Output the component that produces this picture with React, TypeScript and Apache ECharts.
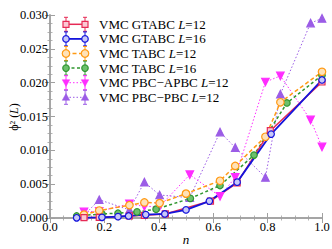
import React, { useEffect, useRef } from "react";
import * as echarts from "echarts";

// ---- data ----
const xTickValues = [0.0, 0.2, 0.4, 0.6, 0.8, 1.0];
const yTickValues = [0.0, 0.005, 0.01, 0.015, 0.02, 0.025, 0.03];

const seriesNames = [
  "VMC GTABC L=12",
  "VMC GTABC L=16",
  "VMC TABC L=12",
  "VMC TABC L=16",
  "VMC PBC\u2212APBC L=12",
  "VMC PBC\u2212PBC L=12",
];

const gtabc12: [number, number][] = [
  [0.125, 0.00005], [0.181, 0.0001], [0.292, 0.0003], [0.347, 0.0004],
  [0.424, 0.0006], [0.59, 0.0025], [0.688, 0.0052], [0.81, 0.0129], [1.0, 0.0201],
];
const gtabc16: [number, number][] = [
  [0.098, 0.00003], [0.191, 0.0001], [0.25, 0.0002], [0.289, 0.0003], [0.352, 0.0005],
  [0.422, 0.0006], [0.5, 0.0012], [0.586, 0.0025], [0.688, 0.0053], [0.813, 0.0124], [1.0, 0.0204],
];
const tabc12: [number, number][] = [
  [0.125, 0.0005], [0.181, 0.0011], [0.292, 0.0019], [0.347, 0.0023], [0.403, 0.0022],
  [0.5, 0.0036], [0.625, 0.0055], [0.681, 0.0077], [0.792, 0.012], [0.847, 0.0171], [1.0, 0.0216],
];
const tabc16: [number, number][] = [
  [0.098, 0.0003], [0.191, 0.0006], [0.25, 0.0007], [0.32, 0.0009], [0.39, 0.0013],
  [0.516, 0.0029], [0.625, 0.0048], [0.75, 0.0093], [0.871, 0.017], [1.0, 0.0211],
];
const pbcApbc12: [number, number][] = [
  [0.125, 0.0009], [0.181, 0.001], [0.292, 0.0021], [0.347, 0.0017], [0.403, 0.0017],
  [0.514, 0.0064], [0.625, 0.0032], [0.681, 0.006], [0.792, 0.0201], [0.847, 0.021],
  [0.958, 0.0145], [1.0, 0.0105],
];
const pbcPbc12: [number, number][] = [
  [0.125, 0.0004], [0.181, 0.0027], [0.292, 0.0012], [0.347, 0.0053], [0.403, 0.0034],
  [0.514, 0.003], [0.625, 0.0127], [0.681, 0.0104], [0.792, 0.006], [0.847, 0.0183],
  [0.958, 0.0288], [1.0, 0.0295],
];

const FONT = "Liberation Serif";
const FRAME = "#a0a0a0";

type Style = {
  color: string;
  fill: string;
  symbol: string;
  rotate: number;
  size: number;
  dash: number[] | "solid";
  width: number;
};

const styles: Style[] = [
  { color: "#e62a55", fill: "#fbc9d4", symbol: "rect", rotate: 0, size: 6, dash: "solid", width: 1.5 },
  { color: "#1414dc", fill: "#c8c8f8", symbol: "circle", rotate: 0, size: 6.5, dash: "solid", width: 1.8 },
  { color: "#ff9a14", fill: "#ffe2b8", symbol: "circle", rotate: 0, size: 7.5, dash: [4, 2.5], width: 1.5 },
  { color: "#2f962f", fill: "#6cc06c", symbol: "circle", rotate: 0, size: 6.5, dash: [3, 2.5], width: 1.5 },
  { color: "#ff2cff", fill: "#ff2cff", symbol: "triangle", rotate: 180, size: 7.5, dash: [1.5, 2], width: 1 },
  { color: "#9b5ce6", fill: "#9b5ce6", symbol: "triangle", rotate: 0, size: 7.5, dash: [1.5, 2], width: 1 },
];

const dataSets = [gtabc12, gtabc16, tabc12, tabc16, pbcApbc12, pbcPbc12];

function legendText(name: string) {
  const m = name.match(/^(.*) L=(\d+)$/);
  if (!m) return `{a|${name}}`;
  return `{a|${m[1]} }{i|L}{a|=${m[2]}}`;
}

function legendGraphics() {
  const out: any[] = [];
  const x1 = 66, x2 = 85, top = 24.3, step = 14.6;
  styles.forEach((s, i) => {
    const y = top + i * step;
    const lineDash = s.dash === "solid" ? null : s.dash;
    out.push({
      type: "line",
      shape: { x1, y1: y, x2, y2: y },
      style: { stroke: s.color, lineWidth: s.width, lineDash },
    });
    [x1, x2].forEach((x) => {
      out.push({ type: "line", shape: { x1: x, y1: y - 7, x2: x, y2: y + 7 }, style: { stroke: s.color, lineWidth: 1 } });
      out.push({ type: "line", shape: { x1: x - 2, y1: y - 7, x2: x + 2, y2: y - 7 }, style: { stroke: s.color, lineWidth: 1 } });
      out.push({ type: "line", shape: { x1: x - 2, y1: y + 7, x2: x + 2, y2: y + 7 }, style: { stroke: s.color, lineWidth: 1 } });
      const st = { fill: s.fill, stroke: s.color, lineWidth: 1.2 };
      const r = s.size / 2;
      if (s.symbol === "rect") {
        out.push({ type: "rect", shape: { x: x - r, y: y - r, width: 2 * r, height: 2 * r }, style: st });
      } else if (s.symbol === "circle") {
        out.push({ type: "circle", shape: { cx: x, cy: y, r }, style: st });
      } else {
        const d = s.rotate === 180 ? -1 : 1;
        out.push({
          type: "polygon",
          shape: { points: [[x, y - d * r], [x - r, y + d * r * 0.8], [x + r, y + d * r * 0.8]] },
          style: { fill: s.color, stroke: s.color, lineWidth: 0.5 },
        });
      }
    });
    out.push({
      type: "text",
      x: 99,
      y,
      style: {
        text: legendText(seriesNames[i]),
        verticalAlign: "middle",
        align: "left",
        rich: {
          a: { fontFamily: FONT, fontSize: 13, fill: "#000" },
          i: { fontFamily: FONT, fontSize: 13, fontStyle: "italic", fill: "#000" },
        },
      },
    });
  });
  // y-axis title, rotated
  out.push({
    type: "text",
    x: 14,
    y: 117,
    rotation: Math.PI / 2,
    style: {
      text: "{a|\u03d5\u00b2 (}{i|L}{a|)}",
      align: "center",
      verticalAlign: "middle",
      rich: {
        a: { fontFamily: FONT, fontSize: 12, fill: "#000" },
        i: { fontFamily: FONT, fontSize: 12, fontStyle: "italic", fill: "#000" },
      },
    },
  });
  // x-axis title
  out.push({
    type: "text",
    x: 186,
    y: 239,
    style: {
      text: "n",
      align: "center",
      verticalAlign: "middle",
      fontFamily: FONT,
      fontSize: 13,
      fontStyle: "italic",
      fill: "#000",
    },
  });
  return out;
}

export default function App() {
  const ref = useRef<HTMLDivElement>(null);
  useEffect(() => {
    if (!ref.current) return;
    const chart = echarts.init(ref.current, null, { renderer: "svg" });
    const tickCommon = {
      axisLine: { show: true, lineStyle: { color: FRAME, width: 1.5 } },
      axisTick: { show: true, inside: true, length: 5, lineStyle: { color: FRAME, width: 1 } },
      minorTick: { show: true, splitNumber: 4, length: 2.5, lineStyle: { color: FRAME, width: 0.8 } },
      splitLine: { show: false },
    };
    const xBase = { type: "value", min: 0, max: 1, interval: 0.2 };
    const yBase = { type: "value", min: 0, max: 0.03, interval: 0.005 };
    const labelStyle = { fontFamily: FONT, fontSize: 12.5, color: "#000" };
    chart.setOption({
      animation: false,
      grid: { left: 50, right: 10, top: 15, bottom: 31, containLabel: false, outerBoundsMode: "none" },
      xAxis: [
        {
          ...xBase,
          ...tickCommon,
          position: "bottom",
          axisLabel: { ...labelStyle, margin: 4, lineHeight: 10, formatter: (v: number) => (xTickValues.some((t) => Math.abs(t - v) < 1e-9) ? v.toFixed(1) : "") },
        },
        {
          ...xBase,
          ...tickCommon,
          position: "top",
          axisLabel: { show: false },
        },
      ],
      yAxis: [
        {
          ...yBase,
          ...tickCommon,
          position: "left",
          axisLabel: { ...labelStyle, margin: 2, lineHeight: 8, formatter: (v: number) => (yTickValues.some((t) => Math.abs(t - v) < 1e-9) ? v.toFixed(3) : "") },
        },
        {
          ...yBase,
          ...tickCommon,
          position: "right",
          axisLabel: { show: false },
        },
      ],
      series: [5, 4, 3, 2, 0, 1].map((i) => ({
        type: "line",
        name: seriesNames[i],
        data: dataSets[i],
        xAxisIndex: 0,
        yAxisIndex: 0,
        symbol: styles[i].symbol,
        symbolSize: styles[i].size,
        symbolRotate: styles[i].rotate,
        showSymbol: true,
        lineStyle: { color: styles[i].color, width: styles[i].width, type: styles[i].dash },
        itemStyle: { color: styles[i].fill, borderColor: styles[i].color, borderWidth: 1.2 },
        z: 2,
        clip: true,
      })),
      graphic: legendGraphics(),
    });
    return () => chart.dispose();
  }, []);
  return <div ref={ref} style={{ width: 332, height: 249, position: "absolute", left: 0, top: 0 }} />;
}
